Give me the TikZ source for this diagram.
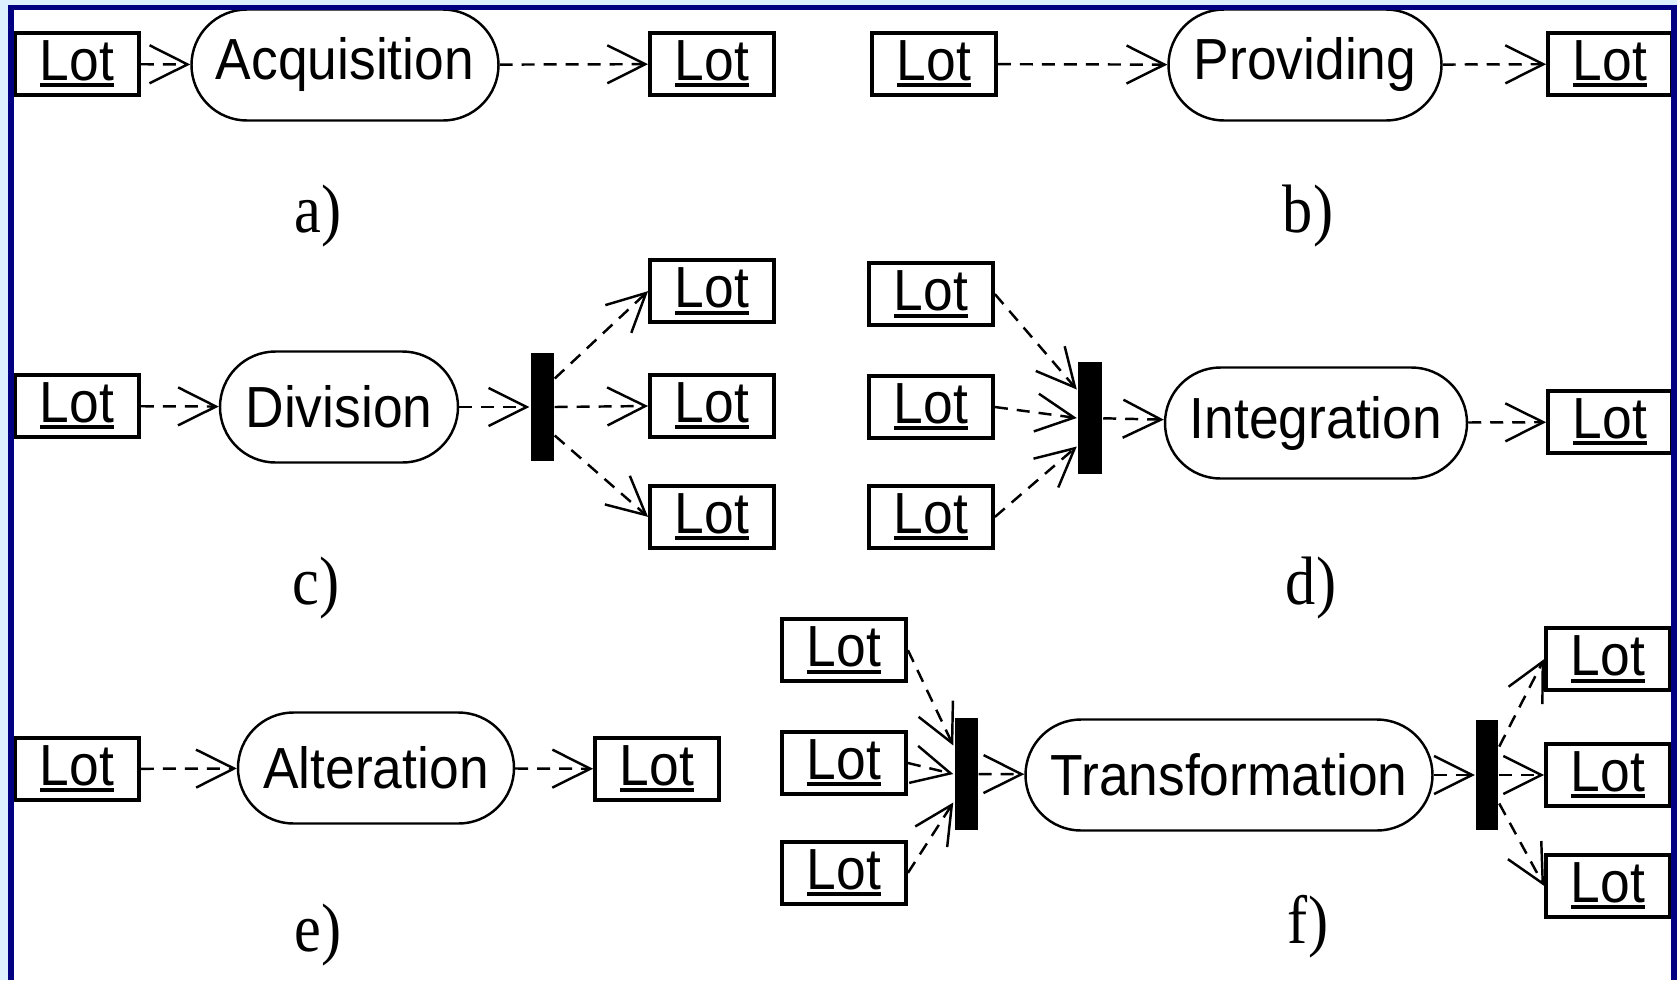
\documentclass[tikz,border=0pt]{standalone}
\usepackage{fontspec}
\setmainfont[FakeStretch=0.88]{Liberation Serif}
\newfontfamily\lotfont[FakeStretch=0.92]{Liberation Sans}
\usepackage{tikz}
\usetikzlibrary{arrows.meta,positioning}
\definecolor{framenavy}{RGB}{0,0,128}
\definecolor{framesky}{RGB}{220,240,253}
\newcommand{\undl}[1]{\sbox0{#1}\rlap{\rule[-0.7mm]{\wd0}{0.4mm}}\usebox0}

\begin{document}
\begin{tikzpicture}[
>={Straight Barb[length=3.8mm,width=3.8mm]}, line width=0.7pt,
lot-node/.style = {rectangle,draw=black,line width=1.1pt,fill=white,minimum width=1.24cm,minimum height=0.62cm,inner sep=0pt,font=\lotfont\fontsize{16.5}{19}\selectfont},
action-node/.style = {rectangle,rounded corners=5.55mm,draw=black,line width=0.7pt,minimum height=1.11cm,inner sep=0pt,font=\lotfont\fontsize{16.5}{19}\selectfont},
bar-node/.style = {rectangle,fill=black,minimum width=0.23cm,minimum height=1.1cm,inner sep=0pt},
case-label/.style = {font=\fontsize{19.5}{23}\selectfont},
flow/.style = {->,dash pattern=on 1.3mm off 0.9mm}
]

\useasboundingbox (0,0) rectangle (16.77,9.80);
\fill[framesky] (0,0) rectangle (16.77,9.80);
\fill[white] (0.14,0) rectangle (16.71,9.70);

% a) and b)
\node [lot-node] (a1) at (0.77, 9.16) {\undl{Lot}};
\node [action-node, minimum width=3.07cm] (acq) at (3.45, 9.15) {Acquisition};
\node [lot-node] (a2) at (7.12, 9.16) {\undl{Lot}};
\node [lot-node] (b1) at (9.34, 9.16) {\undl{Lot}};
\node [action-node, minimum width=2.73cm] (prov) at (13.05, 9.15) {Providing};
\node [lot-node] (b2) at (16.10, 9.16) {\undl{Lot}};

% c) and d)
\node [lot-node] (c1) at (0.77, 5.74) {\undl{Lot}};
\node [action-node, minimum width=2.38cm] (div) at (3.39, 5.73) {Division};
\node [bar-node, minimum height=1.08cm] (barc) at (5.42, 5.73) {};
\node [lot-node] (c3) at (7.12, 5.74) {\undl{Lot}};
\node [lot-node, above=0.49cm of c3] (c2) {\undl{Lot}};
\node [lot-node, below=0.45cm of c3] (c4) {\undl{Lot}};

\node [lot-node] (d2) at (9.31, 5.73) {\undl{Lot}};
\node [lot-node, above=0.47cm of d2] (d1) {\undl{Lot}};
\node [lot-node, below=0.44cm of d2] (d3) {\undl{Lot}};
\node [bar-node, minimum width=0.24cm, minimum height=1.12cm] (bard) at (10.90, 5.62) {};
\node [action-node, minimum width=3.02cm] (integ) at (13.16, 5.57) {Integration};
\node [lot-node] (d4) at (16.10, 5.58) {\undl{Lot}};

% e) and f)
\node [lot-node] (e1) at (0.77, 2.11) {\undl{Lot}};
\node [action-node, minimum width=2.76cm] (alt) at (3.76, 2.12) {Alteration};
\node [lot-node] (e2) at (6.57, 2.11) {\undl{Lot}};

\node [lot-node] (f2) at (8.44, 2.17) {\undl{Lot}};
\node [lot-node, above=0.47cm of f2] (f1) {\undl{Lot}};
\node [lot-node, below=0.44cm of f2] (f3) {\undl{Lot}};
\node [bar-node, minimum height=1.12cm] (barf) at (9.66, 2.06) {};
\node [action-node, minimum width=4.07cm] (trans) at (12.29, 2.05) {Transformation};
\node [bar-node, minimum width=0.22cm] (barg) at (14.87, 2.05) {};
\node [lot-node] (f5) at (16.08, 2.05) {\undl{Lot}};
\node [lot-node, above=0.50cm of f5] (f4) {\undl{Lot}};
\node [lot-node, below=0.45cm of f5] (f6) {\undl{Lot}};

% labels
\node [case-label] (la) at (3.18, 7.64) {a)};
\node [case-label] (lb) at (13.08, 7.64) {b)};
\node [case-label] (lc) at (3.16, 3.92) {c)};
\node [case-label] (ld) at (13.11, 3.92) {d)};
\node [case-label] (le) at (3.18, 0.45) {e)};
\node [case-label] (lf) at (13.08, 0.53) {f)};

% arrows
\draw[flow] (a1) -- (acq);
\draw[flow] (acq) -- (a2);
\draw[flow] (b1) -- (prov);
\draw[flow] (prov) -- (b2);

\draw[flow] (c1) -- (div);
\draw[flow] (div) -- (barc);
\draw[flow] ([yshift=2.85mm]barc.east) -- (c2.west);
\draw[flow] (barc.east) -- (c3.west);
\draw[flow] ([yshift=-2.85mm]barc.east) -- (c4.west);

\draw[flow] (d1.east) -- ([yshift=2.85mm]bard.west);
\draw[flow] (d2.east) -- (bard.west);
\draw[flow] (d3.east) -- ([yshift=-2.85mm]bard.west);
\draw[flow] (bard) -- (integ);
\draw[flow] (integ) -- (d4);

\draw[flow] (e1) -- (alt);
\draw[flow] (alt) -- (e2);

\draw[flow] (f1.east) -- ([yshift=2.85mm]barf.west);
\draw[flow] (f2.east) -- (barf.west);
\draw[flow] (f3.east) -- ([yshift=-2.85mm]barf.west);
\draw[flow] (barf) -- (trans);
\draw[flow] (trans) -- (barg);
\draw[flow] ([yshift=2.85mm]barg.east) -- (f4.west);
\draw[flow] (barg.east) -- (f5.west);
\draw[flow] ([yshift=-2.85mm]barg.east) -- (f6.west);

% frame
\fill[framenavy] (0.08,0) rectangle (0.14,9.75);
\fill[framenavy] (0.08,9.70) rectangle (16.77,9.75);
\fill[framenavy] (16.71,0) rectangle (16.77,9.75);

\end{tikzpicture}
\end{document}
